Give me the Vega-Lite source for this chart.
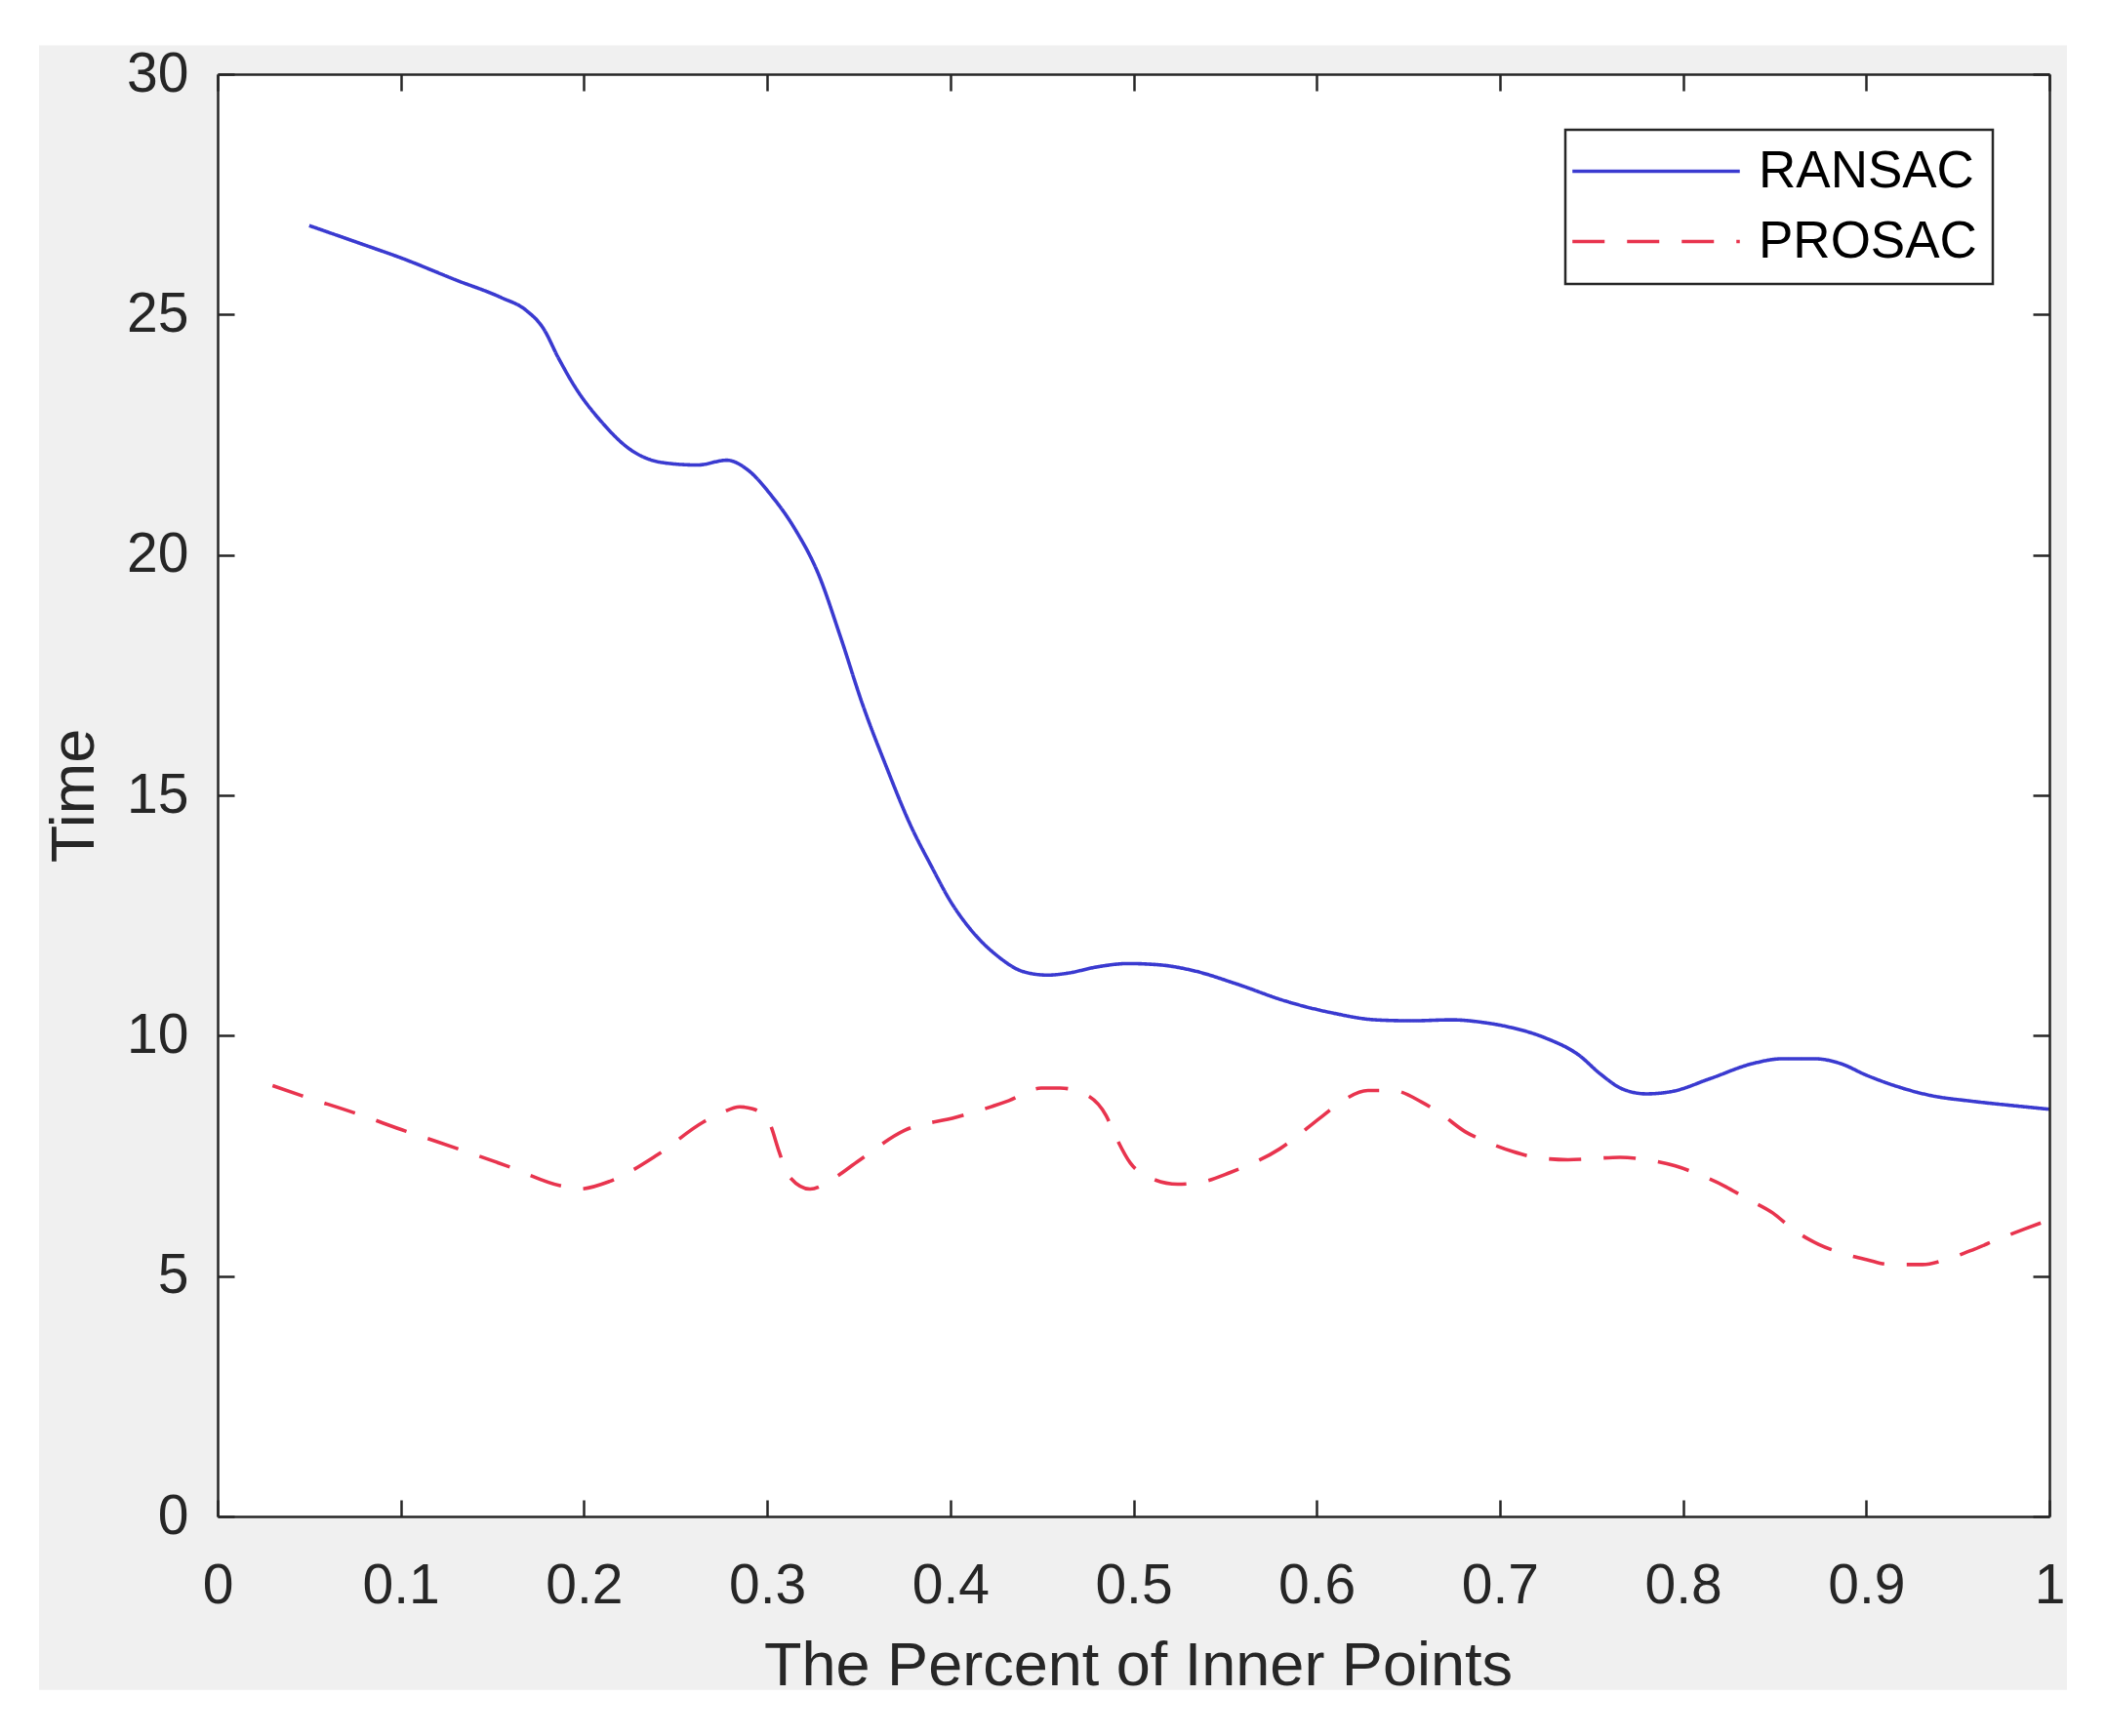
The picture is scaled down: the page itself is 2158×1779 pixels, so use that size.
{
  "$schema": "https://vega.github.io/schema/vega-lite/v6.json",
  "width": 1877,
  "height": 1478,
  "autosize": {"type": "none"},
  "padding": {"left": 223, "top": 76, "right": 58, "bottom": 225},
  "background": "white",
  "config": {
    "view": {"stroke": null},
    "font": "Liberation Sans",
    "axis": {
      "grid": false,
      "domainColor": "#262626",
      "domainWidth": 2.5,
      "tickColor": "#262626",
      "tickWidth": 2.5,
      "tickSize": -17,
      "labelFont": "Liberation Sans",
      "labelFontSize": 57,
      "labelColor": "#262626",
      "labelOverlap": false,
      "labelFlush": false,
      "titleFont": "Liberation Sans",
      "titleFontSize": 63,
      "titleFontWeight": "normal",
      "titleColor": "#262626"
    },
    "legend": {
      "orient": "none",
      "legendX": 1381,
      "legendY": 57,
      "padding": 16,
      "rowPadding": 18,
      "fillColor": "white",
      "strokeColor": "#262626",
      "labelFont": "Liberation Sans",
      "labelFontSize": 53,
      "labelColor": "#000000",
      "labelLimit": 0,
      "symbolType": "M-3.5,0H3.5",
      "symbolSize": 2401,
      "symbolStrokeWidth": 3.6,
      "symbolOffset": 50.5,
      "labelOffset": 78.5
    }
  },
  "resolve": {"axis": {"x": "independent", "y": "independent"}},
  "datasets": {
    "curves": [
      {"method": "RANSAC", "x": 0.05, "y": 26.85},
      {"method": "RANSAC", "x": 0.08, "y": 26.45},
      {"method": "RANSAC", "x": 0.1, "y": 26.18},
      {"method": "RANSAC", "x": 0.13, "y": 25.72},
      {"method": "RANSAC", "x": 0.155, "y": 25.35},
      {"method": "RANSAC", "x": 0.168, "y": 25.1},
      {"method": "RANSAC", "x": 0.178, "y": 24.7},
      {"method": "RANSAC", "x": 0.186, "y": 24.1},
      {"method": "RANSAC", "x": 0.195, "y": 23.5},
      {"method": "RANSAC", "x": 0.21, "y": 22.75},
      {"method": "RANSAC", "x": 0.225, "y": 22.2},
      {"method": "RANSAC", "x": 0.243, "y": 21.92},
      {"method": "RANSAC", "x": 0.262, "y": 21.87},
      {"method": "RANSAC", "x": 0.278, "y": 21.97},
      {"method": "RANSAC", "x": 0.29, "y": 21.75},
      {"method": "RANSAC", "x": 0.302, "y": 21.25},
      {"method": "RANSAC", "x": 0.315, "y": 20.55},
      {"method": "RANSAC", "x": 0.328, "y": 19.6},
      {"method": "RANSAC", "x": 0.34, "y": 18.3},
      {"method": "RANSAC", "x": 0.352, "y": 16.9},
      {"method": "RANSAC", "x": 0.365, "y": 15.6},
      {"method": "RANSAC", "x": 0.378, "y": 14.4},
      {"method": "RANSAC", "x": 0.39, "y": 13.5},
      {"method": "RANSAC", "x": 0.4, "y": 12.8},
      {"method": "RANSAC", "x": 0.41, "y": 12.26},
      {"method": "RANSAC", "x": 0.426, "y": 11.65},
      {"method": "RANSAC", "x": 0.44, "y": 11.33},
      {"method": "RANSAC", "x": 0.453, "y": 11.26},
      {"method": "RANSAC", "x": 0.464, "y": 11.3},
      {"method": "RANSAC", "x": 0.48, "y": 11.43},
      {"method": "RANSAC", "x": 0.497, "y": 11.5},
      {"method": "RANSAC", "x": 0.515, "y": 11.47},
      {"method": "RANSAC", "x": 0.533, "y": 11.35},
      {"method": "RANSAC", "x": 0.556, "y": 11.08},
      {"method": "RANSAC", "x": 0.583, "y": 10.72},
      {"method": "RANSAC", "x": 0.609, "y": 10.47},
      {"method": "RANSAC", "x": 0.632, "y": 10.33},
      {"method": "RANSAC", "x": 0.652, "y": 10.31},
      {"method": "RANSAC", "x": 0.674, "y": 10.33},
      {"method": "RANSAC", "x": 0.69, "y": 10.28},
      {"method": "RANSAC", "x": 0.705, "y": 10.18},
      {"method": "RANSAC", "x": 0.725, "y": 9.95},
      {"method": "RANSAC", "x": 0.743, "y": 9.6},
      {"method": "RANSAC", "x": 0.755, "y": 9.2},
      {"method": "RANSAC", "x": 0.767, "y": 8.89},
      {"method": "RANSAC", "x": 0.78, "y": 8.79},
      {"method": "RANSAC", "x": 0.794, "y": 8.84},
      {"method": "RANSAC", "x": 0.815, "y": 9.11},
      {"method": "RANSAC", "x": 0.838, "y": 9.42},
      {"method": "RANSAC", "x": 0.854, "y": 9.52},
      {"method": "RANSAC", "x": 0.872, "y": 9.52},
      {"method": "RANSAC", "x": 0.886, "y": 9.42},
      {"method": "RANSAC", "x": 0.9, "y": 9.18},
      {"method": "RANSAC", "x": 0.918, "y": 8.93},
      {"method": "RANSAC", "x": 0.936, "y": 8.75},
      {"method": "RANSAC", "x": 0.957, "y": 8.64},
      {"method": "RANSAC", "x": 0.979, "y": 8.55},
      {"method": "RANSAC", "x": 1.0, "y": 8.47},
      {"method": "PROSAC", "x": 0.03, "y": 8.96},
      {"method": "PROSAC", "x": 0.046, "y": 8.75},
      {"method": "PROSAC", "x": 0.075, "y": 8.39},
      {"method": "PROSAC", "x": 0.103, "y": 8.01},
      {"method": "PROSAC", "x": 0.131, "y": 7.65},
      {"method": "PROSAC", "x": 0.158, "y": 7.29},
      {"method": "PROSAC", "x": 0.187, "y": 6.88},
      {"method": "PROSAC", "x": 0.197, "y": 6.81},
      {"method": "PROSAC", "x": 0.214, "y": 6.97},
      {"method": "PROSAC", "x": 0.24, "y": 7.52},
      {"method": "PROSAC", "x": 0.265, "y": 8.2},
      {"method": "PROSAC", "x": 0.2754, "y": 8.4},
      {"method": "PROSAC", "x": 0.285, "y": 8.52},
      {"method": "PROSAC", "x": 0.292, "y": 8.48},
      {"method": "PROSAC", "x": 0.301, "y": 8.2},
      {"method": "PROSAC", "x": 0.3065, "y": 7.59},
      {"method": "PROSAC", "x": 0.311, "y": 7.12},
      {"method": "PROSAC", "x": 0.3234, "y": 6.81},
      {"method": "PROSAC", "x": 0.3358, "y": 7.02},
      {"method": "PROSAC", "x": 0.35, "y": 7.4},
      {"method": "PROSAC", "x": 0.375, "y": 8.03},
      {"method": "PROSAC", "x": 0.403, "y": 8.3},
      {"method": "PROSAC", "x": 0.432, "y": 8.65},
      {"method": "PROSAC", "x": 0.4495, "y": 8.91},
      {"method": "PROSAC", "x": 0.46, "y": 8.91},
      {"method": "PROSAC", "x": 0.4726, "y": 8.8},
      {"method": "PROSAC", "x": 0.485, "y": 8.34},
      {"method": "PROSAC", "x": 0.4903, "y": 7.9},
      {"method": "PROSAC", "x": 0.4983, "y": 7.35},
      {"method": "PROSAC", "x": 0.5081, "y": 7.06},
      {"method": "PROSAC", "x": 0.5241, "y": 6.91},
      {"method": "PROSAC", "x": 0.5365, "y": 6.95},
      {"method": "PROSAC", "x": 0.5525, "y": 7.15},
      {"method": "PROSAC", "x": 0.58, "y": 7.65},
      {"method": "PROSAC", "x": 0.6022, "y": 8.3},
      {"method": "PROSAC", "x": 0.6128, "y": 8.61},
      {"method": "PROSAC", "x": 0.628, "y": 8.86},
      {"method": "PROSAC", "x": 0.6413, "y": 8.86},
      {"method": "PROSAC", "x": 0.6573, "y": 8.62},
      {"method": "PROSAC", "x": 0.6679, "y": 8.37},
      {"method": "PROSAC", "x": 0.6812, "y": 8.0},
      {"method": "PROSAC", "x": 0.6928, "y": 7.79},
      {"method": "PROSAC", "x": 0.707, "y": 7.59},
      {"method": "PROSAC", "x": 0.7194, "y": 7.47},
      {"method": "PROSAC", "x": 0.7372, "y": 7.42},
      {"method": "PROSAC", "x": 0.7496, "y": 7.44},
      {"method": "PROSAC", "x": 0.7656, "y": 7.47},
      {"method": "PROSAC", "x": 0.7798, "y": 7.42},
      {"method": "PROSAC", "x": 0.7958, "y": 7.29},
      {"method": "PROSAC", "x": 0.8082, "y": 7.12},
      {"method": "PROSAC", "x": 0.8233, "y": 6.86},
      {"method": "PROSAC", "x": 0.8348, "y": 6.61},
      {"method": "PROSAC", "x": 0.8491, "y": 6.31},
      {"method": "PROSAC", "x": 0.8597, "y": 5.98},
      {"method": "PROSAC", "x": 0.8739, "y": 5.66},
      {"method": "PROSAC", "x": 0.8864, "y": 5.48},
      {"method": "PROSAC", "x": 0.9005, "y": 5.34},
      {"method": "PROSAC", "x": 0.913, "y": 5.24},
      {"method": "PROSAC", "x": 0.9307, "y": 5.24},
      {"method": "PROSAC", "x": 0.9432, "y": 5.34},
      {"method": "PROSAC", "x": 0.9591, "y": 5.56},
      {"method": "PROSAC", "x": 0.9716, "y": 5.76},
      {"method": "PROSAC", "x": 0.9858, "y": 5.97},
      {"method": "PROSAC", "x": 1.0, "y": 6.17}
    ]
  },
  "layer": [
    {
      "data": {"values": [{}]},
      "mark": {"type": "rect", "fill": "#f0f0f0"},
      "encoding": {
        "x": {"datum": -0.0975, "type": "quantitative", "scale": {"domain": [0, 1], "nice": false, "zero": false}, "axis": null},
        "x2": {"datum": 1.0096},
        "y": {"datum": -3.61, "type": "quantitative", "scale": {"domain": [0, 30], "nice": false, "zero": false}, "axis": null},
        "y2": {"datum": 30.6}
      }
    },
    {
      "data": {"values": [{}]},
      "mark": {"type": "rect", "fill": "white"},
      "encoding": {
        "x": {"datum": 0, "type": "quantitative", "axis": null},
        "x2": {"datum": 1},
        "y": {"datum": 0, "type": "quantitative", "axis": null},
        "y2": {"datum": 30}
      }
    },
    {
      "data": {"name": "curves"},
      "mark": {"type": "line", "strokeOpacity": 0},
      "encoding": {
        "x": {"field": "x", "type": "quantitative", "axis": {"orient": "top", "zindex": 1, "labels": false, "title": null, "values": [0, 0.1, 0.2, 0.3, 0.4, 0.5, 0.6, 0.7, 0.8, 0.9, 1]}},
        "y": {"field": "y", "type": "quantitative", "axis": {"orient": "right", "zindex": 1, "labels": false, "title": null, "values": [0, 5, 10, 15, 20, 25, 30]}},
        "detail": {"field": "method"}
      }
    },
    {
      "data": {"name": "curves"},
      "mark": {"type": "line", "strokeWidth": 3.6, "interpolate": "monotone"},
      "encoding": {
        "x": {
          "field": "x", "type": "quantitative",
          "axis": {
            "orient": "bottom",
            "zindex": 1,
            "title": "The Percent of Inner Points",
            "values": [0, 0.1, 0.2, 0.3, 0.4, 0.5, 0.6, 0.7, 0.8, 0.9, 1],
            "format": "~g",
            "labelPadding": 60,
            "titleX": 943,
            "titleY": 172,
            "titleAlign": "center",
            "titleBaseline": "alphabetic"
          }
        },
        "y": {
          "field": "y", "type": "quantitative",
          "axis": {
            "orient": "left",
            "zindex": 1,
            "title": "Time",
            "values": [0, 5, 10, 15, 20, 25, 30],
            "labelPadding": 47,
            "titleX": -147,
            "titleY": 739,
            "titleAngle": 270,
            "titleAlign": "center",
            "titleBaseline": "middle"
          }
        },
        "color": {
          "field": "method", "type": "nominal", "title": null,
          "scale": {"domain": ["RANSAC", "PROSAC"], "range": ["#3a3ad0", "#e8344e"]},
          "legend": {"encode": {"legend": {"update": {"strokeWidth": {"value": 2.5}}}}}
        },
        "strokeDash": {
          "field": "method", "type": "nominal", "title": null,
          "scale": {"domain": ["RANSAC", "PROSAC"], "range": [[1, 0], [33, 23]]},
          "legend": {"encode": {"legend": {"update": {"strokeWidth": {"value": 2.5}}}}}
        }
      }
    }
  ]
}
